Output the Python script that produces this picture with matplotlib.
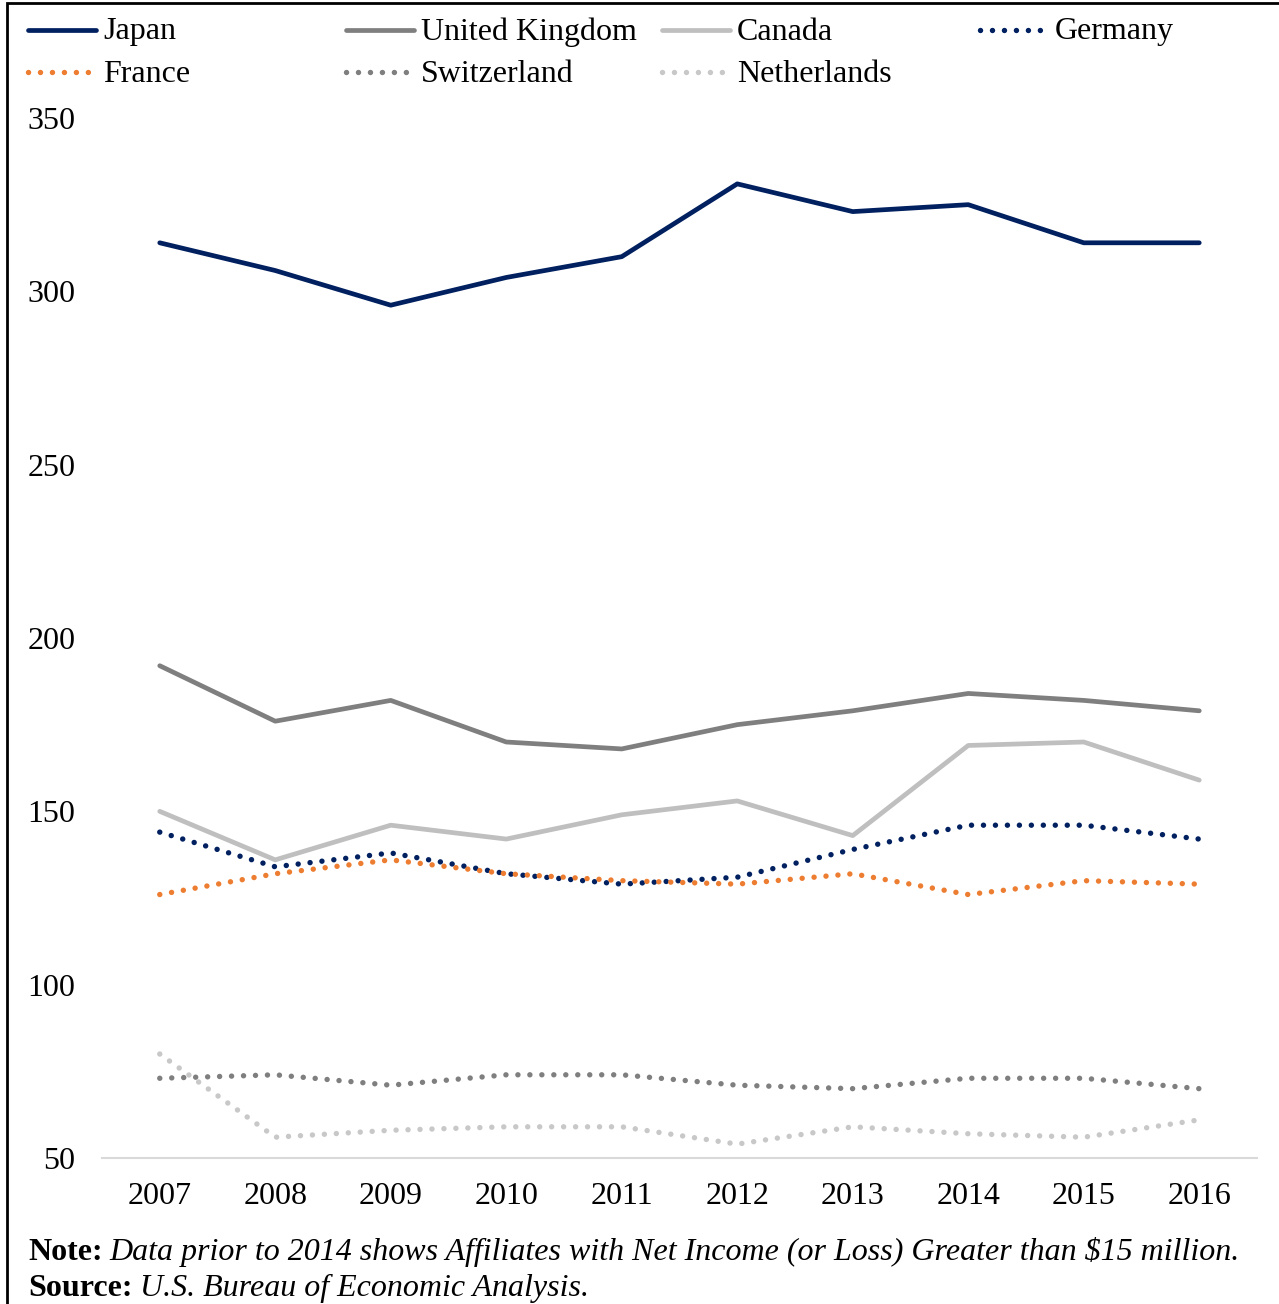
import numpy as np
import matplotlib
matplotlib.use("Agg")
from matplotlib import pyplot as plt
from matplotlib.lines import Line2D
from matplotlib.patches import Rectangle

plt.rcParams['font.family'] = ['Liberation Serif', 'DejaVu Serif']

"""data"""
years = [2007, 2008, 2009, 2010, 2011, 2012, 2013, 2014, 2015, 2016]
japan = [314, 306, 296, 304, 310, 331, 323, 325, 314, 314]
uk = [192, 176, 182, 170, 168, 175, 179, 184, 182, 179]
canada = [150, 136, 146, 142, 149, 153, 143, 169, 170, 159]
germany = [144, 134, 138, 132, 129, 131, 139, 146, 146, 142]
france = [126, 132, 136, 132, 130, 129, 132, 126, 130, 129]
switzerland = [73, 74, 71, 74, 74, 71, 70, 73, 73, 70]
netherlands = [80, 56, 58, 59, 59, 54, 59, 57, 56, 61]
yticks = [50, 100, 150, 200, 250, 300, 350]

NAVY = '#002060'
series = [
  ('Japan', japan, NAVY, 'solid'),
  ('United Kingdom', uk, '#7F7F7F', 'solid'),
  ('Canada', canada, '#BFBFBF', 'solid'),
  ('Germany', germany, NAVY, 'dot'),
  ('France', france, '#ED7D31', 'dot'),
  ('Switzerland', switzerland, '#7F7F7F', 'dot'),
  ('Netherlands', netherlands, '#C8C8C8', 'dot'),
]

FS = 23
LW = 3.4
LWD = 3.9
DOT = (0, (0.01, 2.2))

fig = plt.figure(figsize=(12.79, 13.04), dpi=100)
W, H = 1279, 1304
ax = fig.add_axes([102/W, 1 - 1158/H, (1257-102)/W, (1158-118)/H])

for name, vals, col, style in series:
  if style == 'solid':
    ax.plot(years, vals, color=col, lw=LW, solid_capstyle='round', solid_joinstyle='round')
  else:
    ax.plot(years, vals, color=col, lw=LWD, linestyle=DOT, dash_capstyle='round')

ax.set_xlim(2006.5, 2016.5)
ax.set_ylim(50, 350)
ax.set_xticks(years)
ax.set_yticks(yticks)
ax.tick_params(length=0, labelsize=FS)
ax.tick_params(axis='x', pad=17)
ax.tick_params(axis='y', pad=19)
for s in ['top', 'right', 'left']:
  ax.spines[s].set_visible(False)
ax.spines['bottom'].set_color('#D9D9D9')
ax.spines['bottom'].set_linewidth(1.5)

"""legend, laid out by hand like the original"""
col_x = [28, 346, 662, 980]
row_y = [30, 72]
for i, (name, vals, col, style) in enumerate(series):
  x0 = col_x[i % 4]
  y0 = 1 - row_y[i // 4] / H
  if style == 'solid':
    kw = dict(color=col, lw=LW, solid_capstyle='round')
  else:
    kw = dict(color=col, lw=LWD, linestyle=DOT, dash_capstyle='round')
  fig.add_artist(Line2D([x0/W, (x0+68)/W], [y0, y0], transform=fig.transFigure, **kw))
  fig.text((x0+75)/W, y0 - 2/H, name, fontsize=FS, va='center', ha='left')

"""notes"""
r = fig.canvas.get_renderer()
for ypx, head, body in [(1252, 'Note:', 'Data prior to 2014 shows Affiliates with Net Income (or Loss) Greater than $15 million.'),
                        (1288, 'Source:', 'U.S. Bureau of Economic Analysis.')]:
  t = fig.text(28/W, 1 - ypx/H, head, fontsize=FS, fontweight='bold', va='center')
  x1 = t.get_window_extent(r).x1
  fig.text((x1 + 7)/W, 1 - ypx/H, body, fontsize=FS, style='italic', va='center')

"""frame (top and left edges visible)"""
fig.add_artist(Rectangle((7/W, -0.05), 1.2, 1.05 - 3/H, transform=fig.transFigure,
                         fill=False, edgecolor='black', lw=2))

fig.savefig('out.png', dpi=100)
